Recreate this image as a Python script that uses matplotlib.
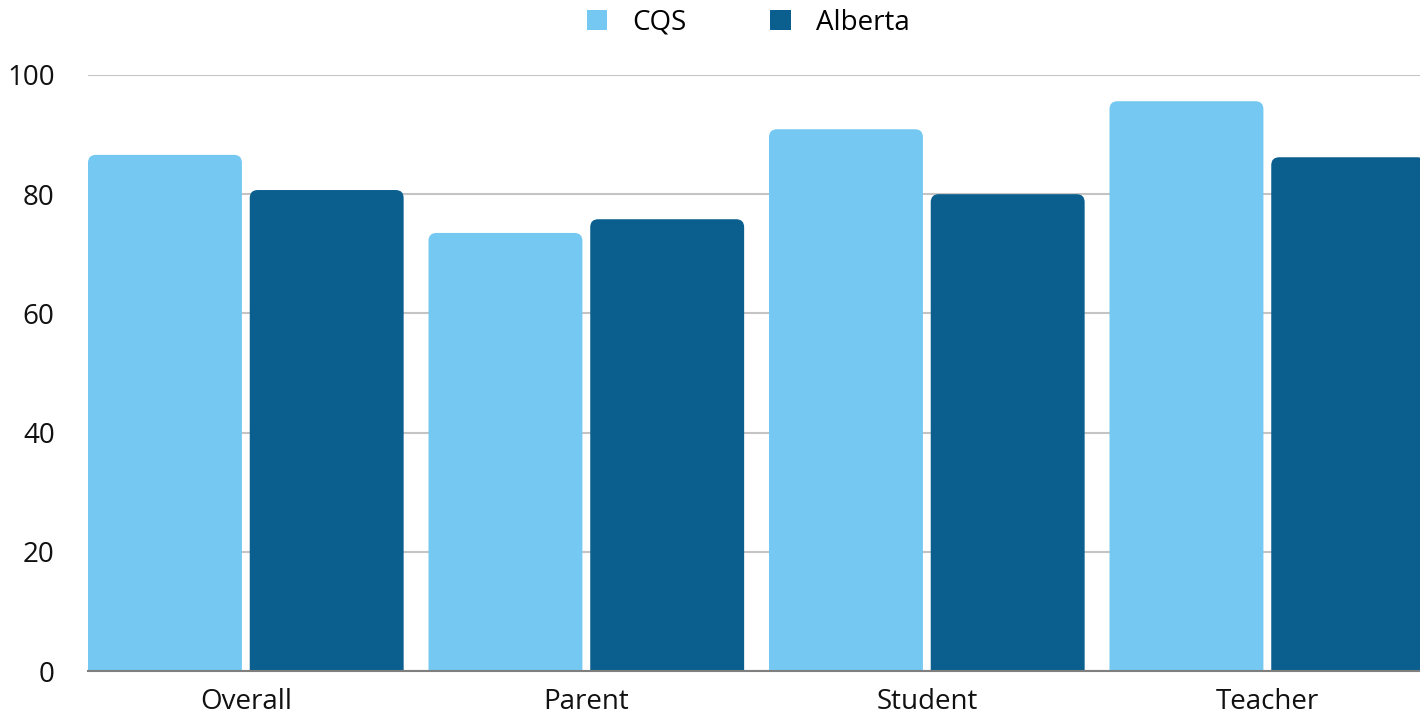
import matplotlib
matplotlib.use("Agg")
import matplotlib.pyplot as plt
import numpy as np
from matplotlib.path import Path
from matplotlib.patches import PathPatch, Patch

# ---------- data ----------
categories = ["Overall", "Parent", "Student", "Teacher"]
cqs = [86.6, 73.5, 90.9, 95.6]
alberta = [80.7, 75.8, 80.0, 86.2]
series_names = ["CQS", "Alberta"]
yticks = [0, 20, 40, 60, 80, 100]

C_CQS = "#74C8F1"
C_AB = "#0B5F8F"

plt.rcParams["font.family"] = ["Open Sans", "DejaVu Sans"]

W, H = 1420, 713
fig = plt.figure(figsize=(W / 100, H / 100), dpi=100)
ax_left, ax_right = 88 / W, 1.0
ax_bottom, ax_top = (H - 671) / H, (H - 75) / H
ax = fig.add_axes([ax_left, ax_bottom, ax_right - ax_left, ax_top - ax_bottom])

x = np.arange(len(categories))
bw = 0.452
off = 0.2375
xmin = -off - bw / 2
xmax = xmin + 1332 / 340.5  # last bar runs slightly past the right edge
ax.set_xlim(xmin, xmax)
ax.set_ylim(0, 100)

# px per data unit, used to keep the corner radius round
px_x = (ax_right - ax_left) * W / (xmax - xmin)
px_y = (ax_top - ax_bottom) * H / 100
r_px = 8
rx, ry = r_px / px_x, r_px / px_y


def rounded_top(ax, bars, color):
    for b in bars:
        x0, w, h = b.get_x(), b.get_width(), b.get_height()
        x1 = x0 + w
        verts = [
            (x0, 0), (x0, h - ry), (x0, h), (x0 + rx, h),
            (x1 - rx, h), (x1, h), (x1, h - ry), (x1, 0), (x0, 0),
        ]
        codes = [
            Path.MOVETO, Path.LINETO, Path.CURVE3, Path.CURVE3,
            Path.LINETO, Path.CURVE3, Path.CURVE3, Path.LINETO, Path.CLOSEPOLY,
        ]
        ax.add_patch(PathPatch(Path(verts, codes), facecolor=color,
                               edgecolor="none", zorder=3))
        b.set_visible(False)


b1 = ax.bar(x - off, cqs, width=bw, color=C_CQS)
b2 = ax.bar(x + off, alberta, width=bw, color=C_AB)
rounded_top(ax, b1, C_CQS)
rounded_top(ax, b2, C_AB)

ax.set_yticks(yticks)
ax.set_yticklabels([str(v) for v in yticks], fontsize=20, color="#111111")
ax.set_xticks(x)
ax.set_xticklabels(categories, fontsize=20, color="#111111")
ax.tick_params(axis="both", length=0)
ax.tick_params(axis="y", pad=24)
ax.tick_params(axis="x", pad=12)

ax.grid(axis="y", color="#c4c4c4", lw=1.5)
ax.set_axisbelow(True)
for s in ["top", "right", "left"]:
    ax.spines[s].set_visible(False)
ax.spines["bottom"].set_color("#7f7f7f")
ax.spines["bottom"].set_linewidth(1.5)
ax.spines["bottom"].set_zorder(4)

handles = [Patch(facecolor=C_CQS, edgecolor="none"),
           Patch(facecolor=C_AB, edgecolor="none")]
fig.legend(handles, series_names, loc="center", bbox_to_anchor=(748 / W, 1 - 23 / H),
           ncol=2, frameon=False, fontsize=20, handlelength=0.75, handleheight=0.75,
           handletextpad=0.9, columnspacing=3.0)

fig.savefig("out.png", dpi=100, facecolor="white")
